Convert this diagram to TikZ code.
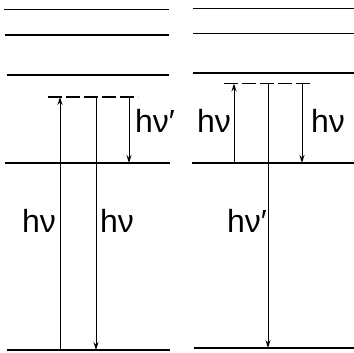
\documentclass[tikz,border=0pt]{standalone}
\usepackage{fontspec}
\setmainfont{Liberation Sans}
\usetikzlibrary{arrows.meta}
\begin{document}
\begin{tikzpicture}[x=1pt,y=-1pt,
  level/.style={line width=1.3pt},
  virt/.style={line width=1.1pt,dash pattern=on 14pt off 4pt},
  trans/.style={line width=1pt,-{Stealth[length=8pt,width=5pt]}},
  lbl/.style={font=\fontsize{32}{32}\selectfont,anchor=base,inner sep=0pt}]
\useasboundingbox (0,0) rectangle (354,353);
% left panel levels
\coordinate (La1) at (4,9.5);   \coordinate (Lb1) at (169,9.5);
\coordinate (La2) at (5,35);    \coordinate (Lb2) at (169,35);
\coordinate (La3) at (7,75);    \coordinate (Lb3) at (169,75);
\coordinate (Lva) at (48,97);   \coordinate (Lvb) at (138,97);
\coordinate (Lma) at (5,163);   \coordinate (Lmb) at (170,163);
\coordinate (Lga) at (7,350);   \coordinate (Lgb) at (170,350);
\draw[level] (La1) -- (Lb1);
\draw[level] (La2) -- (Lb2);
\draw[level] (La3) -- (Lb3);
\draw[virt] (Lva) -- (Lvb);
\draw[level] (Lma) -- (Lmb);
\draw[level] (Lga) -- (Lgb);
% left transitions
\coordinate (L1s) at (60,350);  \coordinate (L1e) at (60,97);
\coordinate (L2s) at (96,97);   \coordinate (L2e) at (96,350);
\coordinate (L3s) at (129,97);  \coordinate (L3e) at (129,163);
\draw[trans] (L1s) -- (L1e);
\draw[trans] (L2s) -- (L2e);
\draw[trans] (L3s) -- (L3e);
\node[lbl] (Lt1) at (39,232) {hν};
\node[lbl] (Lt2) at (117,232) {hν};
\node[lbl] (Lt3) at (155,133) {hν′};
% right panel levels
\coordinate (Ra1) at (193,8.5);  \coordinate (Rb1) at (354,8.5);
\coordinate (Ra2) at (193,33.5); \coordinate (Rb2) at (354,33.5);
\coordinate (Ra3) at (193,73);   \coordinate (Rb3) at (354,73);
\coordinate (Rva) at (224,83.5); \coordinate (Rvb) at (310,83.5);
\coordinate (Rma) at (192,163);  \coordinate (Rmb) at (354,163);
\coordinate (Rga) at (194,348);  \coordinate (Rgb) at (354,348);
\draw[level] (Ra1) -- (Rb1);
\draw[level] (Ra2) -- (Rb2);
\draw[level] (Ra3) -- (Rb3);
\draw[virt] (Rva) -- (Rvb);
\draw[level] (Rma) -- (Rmb);
\draw[level] (Rga) -- (Rgb);
% right transitions
\coordinate (R1s) at (234,163);  \coordinate (R1e) at (234,83.5);
\coordinate (R2s) at (268,83.5); \coordinate (R2e) at (268,348);
\coordinate (R3s) at (302,83.5); \coordinate (R3e) at (302,163);
\draw[trans] (R1s) -- (R1e);
\draw[trans] (R2s) -- (R2e);
\draw[trans] (R3s) -- (R3e);
\node[lbl] (Rt1) at (214,133) {hν};
\node[lbl] (Rt2) at (328,133) {hν};
\node[lbl] (Rt3) at (247,232) {hν′};
\end{tikzpicture}
\end{document}
